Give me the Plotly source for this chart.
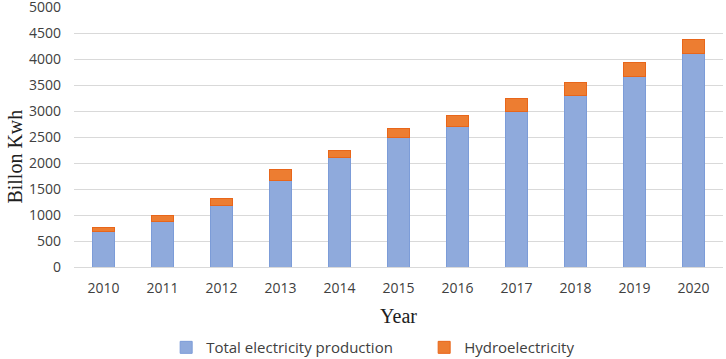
import plotly.graph_objects as go

years = ["2010", "2011", "2012", "2013", "2014", "2015", "2016", "2017", "2018", "2019", "2020"]
total_production = [680, 870, 1190, 1670, 2100, 2490, 2710, 3000, 3300, 3660, 4110]
hydroelectricity = [76, 130, 130, 210, 140, 180, 210, 250, 250, 280, 260]
y_ticks = [0, 500, 1000, 1500, 2000, 2500, 3000, 3500, 4000, 4500, 5000]

fig = go.Figure()
fig.add_trace(go.Bar(
    x=years, y=total_production, name="Total electricity production",
    marker=dict(color="#8FAADC", line=dict(color="#7C9CD8", width=1)),
))
fig.add_trace(go.Bar(
    x=years, y=hydroelectricity, name="Hydroelectricity",
    marker=dict(color="#ED7D31", line=dict(color="#E8661A", width=1)),
))

fig.update_layout(
    barmode="stack",
    bargap=0.62,
    width=726, height=359,
    margin=dict(l=73.5, r=2.5, t=7, b=92, autoexpand=False),
    plot_bgcolor="white", paper_bgcolor="white",
    font=dict(family="Open Sans", size=14, color="#404040"),
    legend=dict(
        orientation="h", x=0.142, xanchor="left", y=-0.31, yanchor="middle",
        font=dict(family="Open Sans", size=15, color="#404040"),
        entrywidth=213, entrywidthmode="pixels", traceorder="normal",
    ),
    xaxis=dict(
        showgrid=False, showline=True, linecolor="#D9D9D9", linewidth=1,
        ticks="", tickfont=dict(size=14, color="#404040"), ticklabelstandoff=8,
        title=dict(text="Year", font=dict(family="Liberation Serif", size=20, color="#202020"), standoff=13),
    ),
    yaxis=dict(
        range=[0, 5000], tickvals=y_ticks, showgrid=True, gridcolor="#D9D9D9", gridwidth=1,
        zeroline=False, ticks="", tickfont=dict(size=14, color="#404040"), ticklabelstandoff=12,
        ticklabeloverflow="allow",
    ),
    annotations=[dict(
        text="Billon Kwh", textangle=-90, xref="paper", yref="paper",
        x=(14 - 73.5) / 650, y=(267 - 157) / 260, xanchor="center", yanchor="middle",
        showarrow=False, font=dict(family="Liberation Serif", size=20, color="#202020"),
    )],
)

fig.write_html(
    "out.html",
    config={"displayModeBar": False},
    post_script="document.body.style.margin='0';document.body.style.overflow='hidden';",
)
